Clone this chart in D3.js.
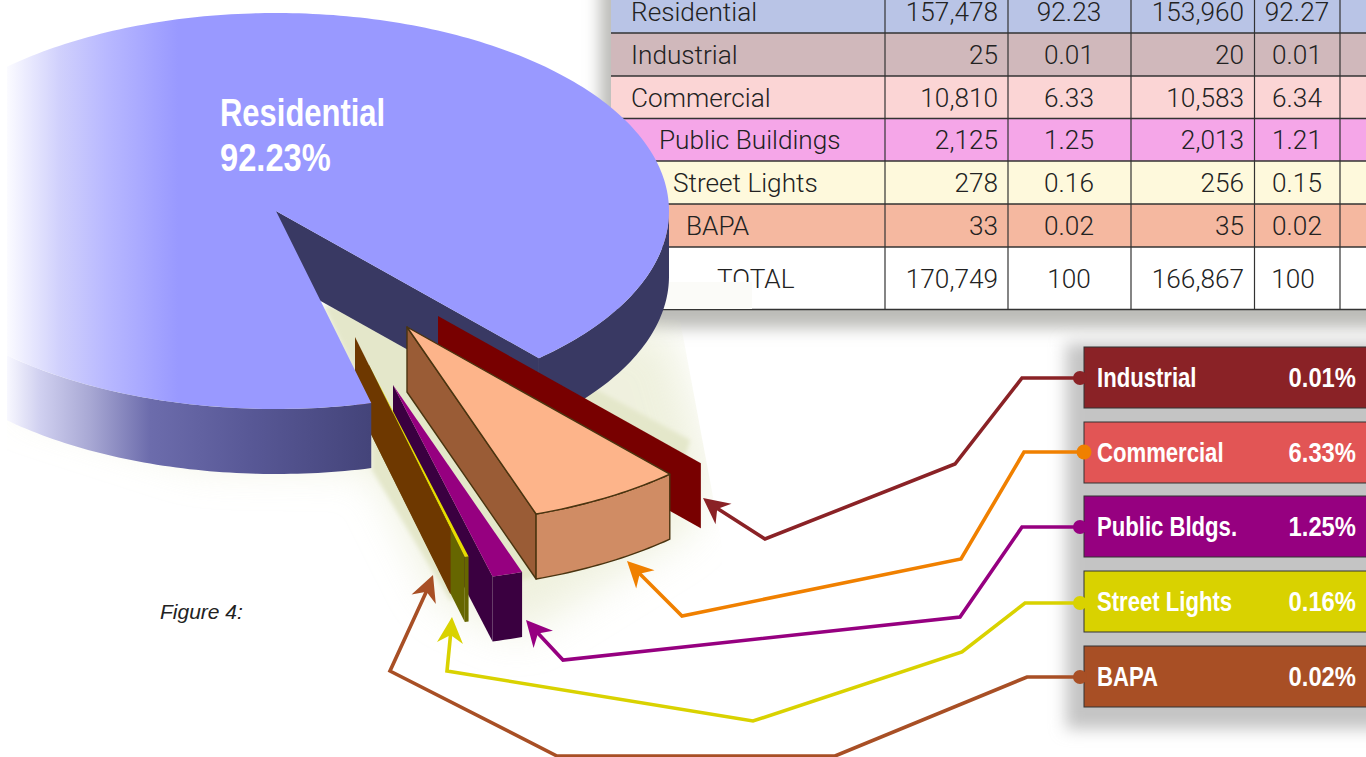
<!DOCTYPE html>
<html>
<head>
<meta charset="utf-8">
<script src="https://cdn.jsdelivr.net/npm/d3@7"></script>
<style>
html, body { margin: 0; padding: 0; background: #fff; overflow: hidden; }
svg { display: block; }
.cell { font-family: "Roboto", "Liberation Sans", sans-serif; font-weight: 300; font-size: 26.2px; fill: #222; }
.bold { font-family: "Liberation Sans", sans-serif; font-weight: 700; fill: #fff; }
</style>
</head>
<body>
<div id="viz"></div>
<script>
/////// DATA ////////
var categories = ["Residential", "Industrial", "Commercial", "Public Buildings", "Street Lights", "BAPA"];
var consumersA = [157478, 25, 10810, 2125, 278, 33];
var sharesA    = [92.23, 0.01, 6.33, 1.25, 0.16, 0.02];
var consumersB = [153960, 20, 10583, 2013, 256, 35];
var sharesB    = [92.27, 0.01, 6.34, 1.21, 0.15, 0.02];
var totalRow   = ["TOTAL", 170749, 100, 166867, 100];

var legendNames  = ["Industrial", "Commercial", "Public Bldgs.", "Street Lights", "BAPA"];
var legendValues = [0.01, 6.33, 1.25, 0.16, 0.02];
var pieValues    = [0.01, 6.33, 1.25, 0.16, 0.02, 92.23];

/////// LAYOUT ////////
var w = 1366;
var h = 757;
var rad = Math.PI / 180;

var cx = 276, cy = 211, rx = 393, ry = 198, depth = 65;
var xscale = d3.scaleLinear().domain([-1, 1]).range([cx - rx, cx + rx]);
var yscale = d3.scaleLinear().domain([-1, 1]).range([cy - ry, cy + ry]);

// how far each slice is pulled out of the pie, same order as legendNames
var explode = [[162, 105], [131, 116], [117, 174], [93, 154], [79, 126]];

var sliceStyle = [
    {wall: "#780000", outer: "#780000", top: "#780000", stroke: "none"},
    {wall: "#9a5c36", outer: "#d08c64", top: "#fdb48a", stroke: "#4a3410"},
    {wall: "#3a0040", outer: "#3a0040", top: "#960080", stroke: "none"},
    {wall: "#666600", outer: "#666600", top: "#e6dc00", stroke: "none"},
    {wall: "#6e3800", outer: "#6e3800", top: "#6e3800", stroke: "none"}
];

var legendColors = ["#8a2226", "#e25555", "#960080", "#d9d200", "#a84f25"];
var lineColors   = ["#8a2226", "#f08000", "#960080", "#d9d200", "#a84f25"];

var rowColors = ["#b9c4e6", "#d0b8bb", "#fbd5d5", "#f5a6e8", "#fef9dc", "#f5b8a0", "#ffffff"];
var rowLines  = [-10, 33, 76, 118.5, 161, 204, 247, 309.5];
var colLines  = [611, 885, 1008, 1131, 1254.5, 1340, 1380];
var labelX    = [631, 631, 631, 659, 673, 686];

var svg = d3.select("#viz").append("svg").attr("width", w).attr("height", h);
var defs = svg.append("defs");

function blur(id, s) {
    defs.append("filter").attr("id", id)
        .attr("x", "-30%").attr("y", "-30%").attr("width", "160%").attr("height", "160%")
        .append("feGaussianBlur").attr("stdDeviation", s);
}
blur("blur2", 2);
blur("blur8", 8);
blur("blur22", 22);

function gradient(id, stops) {
    var g = defs.append("linearGradient").attr("id", id)
        .attr("gradientUnits", "userSpaceOnUse")
        .attr("x1", 7).attr("x2", 370).attr("y1", 0).attr("y2", 0);
    stops.forEach(function(s) {
        g.append("stop").attr("offset", (s[0] - 7) / 363).attr("stop-color", s[1]);
    });
}
gradient("topGrad", [[7, "#fbfbff"], [60, "#d0d0fc"], [107, "#b8b8ff"], [178, "#9999ff"], [370, "#9999ff"]]);
gradient("sideGrad", [[7, "#f8f8ff"], [40, "#d0d0f0"], [90, "#a8a8d4"], [150, "#6c6cac"], [250, "#585896"], [370, "#44447a"]]);

defs.append("clipPath").attr("id", "pieClip")
    .append("rect").attr("x", 7).attr("y", 0).attr("width", w).attr("height", h);
defs.append("clipPath").attr("id", "glowClip")
    .append("polygon").attr("points", "7,300 680,320 722,545 722,757 7,757");

var line = d3.line();

// ellipse point at a pie angle, optionally dropped and shifted
function pt(a, off, drop) {
    return [xscale(Math.sin(a)) + off[0], yscale(-Math.cos(a)) + off[1] + (drop || 0)];
}
function centre(off, drop) {
    return [cx + off[0], cy + off[1] + (drop || 0)];
}
function arcPts(a0, a1, off, drop) {
    var n = Math.max(2, Math.ceil(Math.abs(a1 - a0) / rad));
    return d3.range(n + 1).map(function(i) {
        return pt(a0 + (a1 - a0) * i / n, off, drop);
    });
}
function sidePath(a0, a1, off) {
    return line(arcPts(a0, a1, off, 0).concat(arcPts(a1, a0, off, depth))) + "Z";
}

// the narrow bold face is not installed, so squeeze the regular bold
function boldText(parent, x, y, size, squeeze, txt, anchor) {
    return parent.append("text").attr("class", "bold")
        .attr("transform", "translate(" + x + "," + y + ") scale(" + squeeze + ",1)")
        .attr("font-size", size)
        .attr("text-anchor", anchor || "start")
        .text(txt);
}

/////// TABLE ////////
svg.append("rect")
    .attr("x", 600).attr("y", -30).attr("width", 800).attr("height", 358)
    .attr("fill", "#bcbcb8").attr("filter", "url(#blur8)");

var table = svg.append("g");
rowColors.forEach(function(c, i) {
    table.append("rect")
        .attr("x", colLines[0]).attr("y", rowLines[i])
        .attr("width", w).attr("height", rowLines[i + 1] - rowLines[i])
        .attr("fill", c);
});
rowLines.slice(1).forEach(function(y) {
    table.append("line").attr("x1", colLines[0]).attr("x2", w).attr("y1", y).attr("y2", y)
        .attr("stroke", "#333").attr("stroke-width", 1.5);
});
colLines.slice(1, 6).forEach(function(x) {
    table.append("line").attr("x1", x).attr("x2", x).attr("y1", 0).attr("y2", 309.5)
        .attr("stroke", "#333").attr("stroke-width", 1.2);
});

var comma = d3.format(",");
function cell(x, y, txt, anchor) {
    table.append("text").attr("class", "cell")
        .attr("x", x).attr("y", y).attr("text-anchor", anchor).text(txt);
}
categories.forEach(function(name, i) {
    var y = (rowLines[i] + rowLines[i + 1]) / 2 + 9.5;
    if (i == 0) y = 21;
    cell(labelX[i], y, name, "start");
    cell(998, y, comma(consumersA[i]), "end");
    cell(1069, y, sharesA[i], "middle");
    cell(1244, y, comma(consumersB[i]), "end");
    cell(1297, y, sharesB[i], "middle");
});
cell(717, 288, totalRow[0], "start");
cell(998, 288, comma(totalRow[1]), "end");
cell(1069, 288, totalRow[2], "middle");
cell(1244, 288, comma(totalRow[3]), "end");
cell(1293, 288, totalRow[4], "middle");

// pale patch of the pasted pie image that covers the bottom of TOTAL
table.append("rect")
    .attr("x", 660).attr("y", 282).attr("width", 92).attr("height", 27)
    .attr("fill", "#fbfbf8");

/////// GLOW UNDER THE PIE ////////
svg.append("g").attr("clip-path", "url(#glowClip)")
    .append("path")
    .attr("d", line([[7, 400], [200, 462], [372, 465], [440, 600], [520, 635], [690, 530], [710, 470], [670, 330], [323, 300]]) + "Z")
    .attr("fill", "#e4e7c8")
    .attr("opacity", 0.6)
    .attr("filter", "url(#blur22)");
svg.append("path")
    .attr("d", line([[323, 304], [372, 405], [372, 470], [450, 600], [540, 575], [670, 510], [690, 440], [560, 370]]) + "Z")
    .attr("fill", "#e4e7ca")
    .attr("filter", "url(#blur2)");

/////// PIE ////////
var pie = d3.pie().sort(null).startAngle(138 * rad).endAngle(498 * rad);
var arcs = pie(pieValues);
var res = arcs[5];
var none = [0, 0];
var pieG = svg.append("g").attr("clip-path", "url(#pieClip)");

// cut wall and right hand rim, behind the slices
pieG.append("path")
    .attr("d", line([centre(none), pt(res.endAngle, none), pt(res.endAngle, none, depth), centre(none, depth)]) + "Z")
    .attr("fill", "#393963");
pieG.append("path")
    .attr("d", sidePath(90 * rad + 2 * Math.PI, res.endAngle, none))
    .attr("fill", "#393963");

// exploded slices
arcs.slice(0, 5).forEach(function(d, i) {
    var off = explode[i], st = sliceStyle[i];
    var a0 = d.startAngle, a1 = d.endAngle;
    var g = pieG.append("g")
        .attr("stroke", st.stroke).attr("stroke-width", 1.4).attr("stroke-linejoin", "round");
    g.append("path")
        .attr("d", line([centre(off), pt(a1, off), pt(a1, off, depth), centre(off, depth)]) + "Z")
        .attr("fill", st.wall);
    g.append("path").attr("d", sidePath(a0, a1, off)).attr("fill", st.outer);
    g.append("path")
        .attr("d", line([centre(off)].concat(arcPts(a0, a1, off, 0))) + "Z")
        .attr("fill", st.top);
});

// front rim and the top face go over the slices
pieG.append("path")
    .attr("d", sidePath(res.startAngle, 270 * rad, none))
    .attr("fill", "url(#sideGrad)");
pieG.append("path")
    .attr("d", line([centre(none)].concat(arcPts(res.startAngle, res.endAngle, none, 0))) + "Z")
    .attr("fill", "url(#topGrad)");

boldText(svg, 220, 126, 38, 0.815, categories[0]);
boldText(svg, 220, 171, 38, 0.86, sharesA[0] + "%");

svg.append("text")
    .attr("x", 160).attr("y", 619)
    .attr("font-family", "Liberation Sans").attr("font-style", "italic")
    .attr("font-size", 21).attr("fill", "#222")
    .text("Figure 4:");

/////// LEGEND ////////
var boxY = [347, 422, 496, 571, 646];
var boxH = 61;

svg.append("rect")
    .attr("x", 1066).attr("y", 343).attr("width", 330).attr("height", 386)
    .attr("fill", "#c4c4c4").attr("filter", "url(#blur8)");

/////// CALLOUT LINES ////////
var routes = [
    [[1080, 378], [1022, 378], [955, 464], [765, 539], [712, 505]],
    [[1084, 452], [1024, 452], [961, 559], [682, 616], [636, 570]],
    [[1080, 527], [1022, 527], [960, 617], [563, 660], [534, 629]],
    [[1080, 603], [1025, 603], [962, 652], [753, 721], [447, 671], [451, 630]],
    [[1080, 677], [1027, 677], [835, 756], [557, 756], [390, 671], [428, 588]]
];
var tips = [[703, 498], [627, 561], [526, 620], [452, 617], [433, 575]];

routes.forEach(function(r, i) {
    svg.append("path").attr("d", line(r))
        .attr("fill", "none").attr("stroke", lineColors[i]).attr("stroke-width", 3.6)
        .attr("stroke-linejoin", "miter");

    // notched arrow head pointing at the tip
    var tip = tips[i], from = r[r.length - 1];
    var ang = Math.atan2(from[1] - tip[1], from[0] - tip[0]);
    var head = [[0, 0], [26, -13], [18, 0], [26, 13]].map(function(p) {
        return [tip[0] + p[0] * Math.cos(ang) - p[1] * Math.sin(ang),
                tip[1] + p[0] * Math.sin(ang) + p[1] * Math.cos(ang)];
    });
    svg.append("path").attr("d", line(head) + "Z").attr("fill", lineColors[i]);
});

legendNames.forEach(function(name, i) {
    var g = svg.append("g");
    g.append("rect")
        .attr("x", 1084).attr("y", boxY[i]).attr("width", 300).attr("height", boxH)
        .attr("fill", legendColors[i]).attr("stroke", "#333").attr("stroke-width", 1);
    g.append("circle")
        .attr("cx", i == 1 ? 1084 : 1080).attr("cy", routes[i][0][1])
        .attr("r", i == 1 ? 7.5 : 7).attr("fill", lineColors[i]);
    boldText(g, 1097, boxY[i] + 40, 28, 0.79, name);
    boldText(g, 1356, boxY[i] + 40, 28, 0.85, legendValues[i] + "%", "end");
});
</script>
</body>
</html>
